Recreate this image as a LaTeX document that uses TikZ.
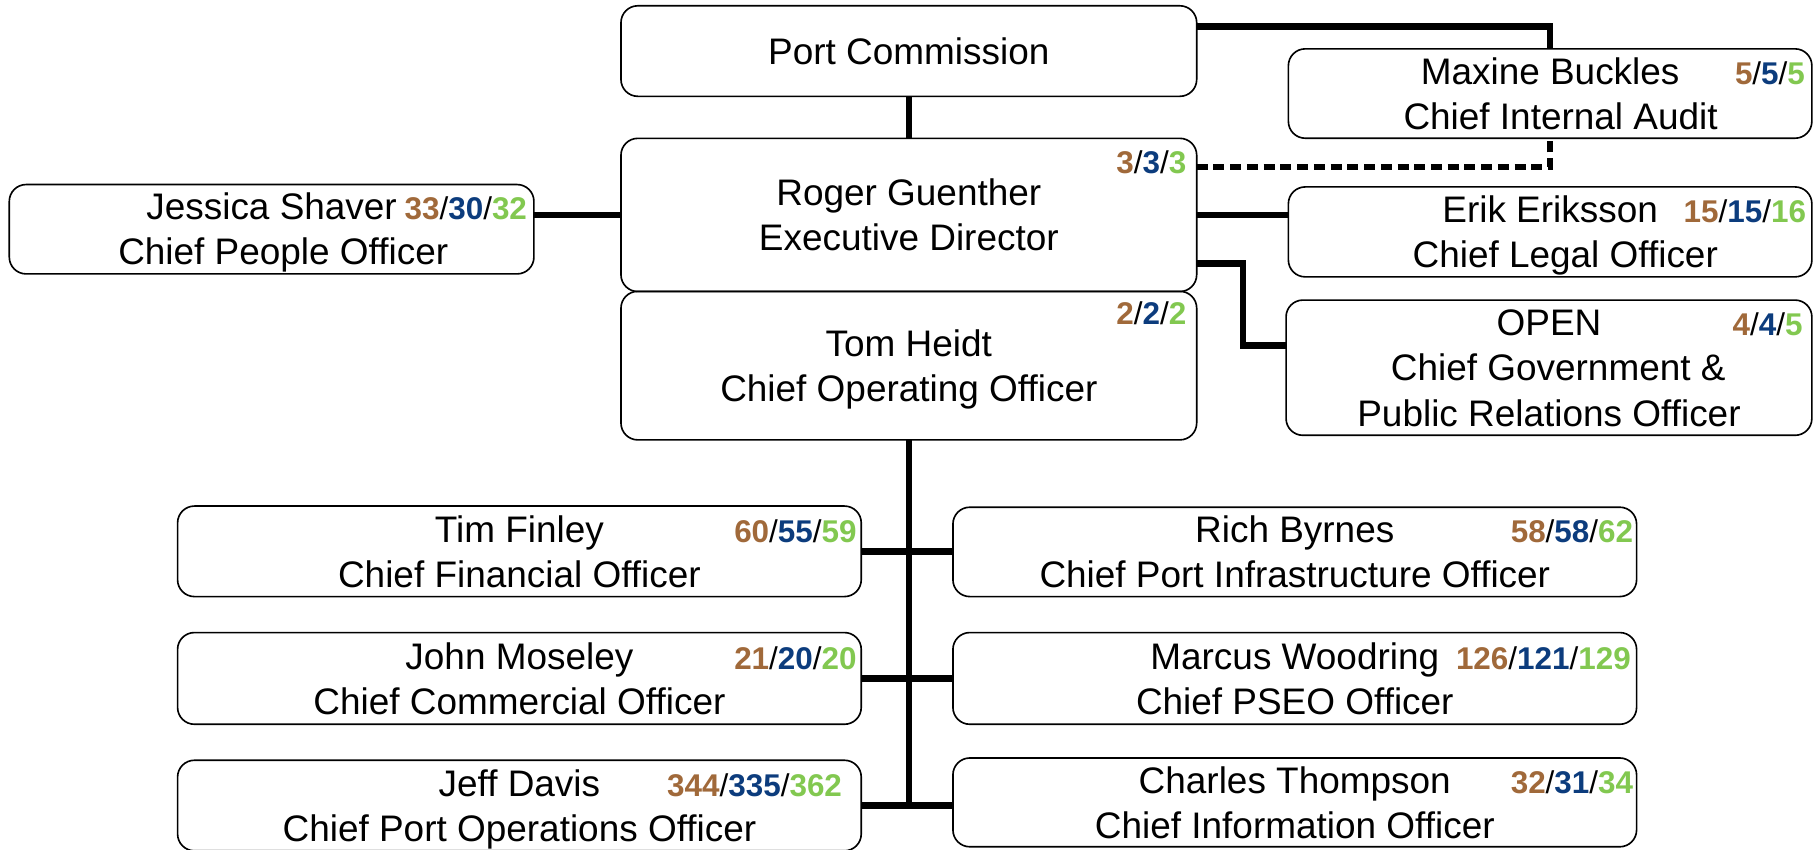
\documentclass[tikz,border=0pt]{standalone}
\usepackage{fontspec}
\setmainfont{Liberation Sans}
\usepackage{tikz}
\usepackage{xcolor}
\definecolor{hcbrown}{RGB}{160,105,58}
\definecolor{hcblue}{RGB}{12,60,125}
\definecolor{hcgreen}{RGB}{130,200,80}
\newcommand{\hcount}[3]{\textbf{\textcolor{hcbrown}{#1}}/\textbf{\textcolor{hcblue}{#2}}/\textbf{\textcolor{hcgreen}{#3}}}

\begin{document}
\begin{tikzpicture}[
  x=0.01cm, y=-0.01cm,
  orgbox/.style={rectangle, draw=black, line width=0.4pt, rounded corners=0.145cm, inner sep=0pt, outer sep=0pt, align=center, text height=0.616cm, text depth=0pt, font=\fontsize{9.05pt}{11.04pt}\selectfont},
  boxsize/.style 2 args={minimum width=#1*0.01cm, minimum height=#2*0.01cm},
  cnt/.style={inner sep=0pt, outer sep=0pt, anchor=base east, font=\fontsize{7.7pt}{9pt}\selectfont},
  conn/.style={line width=1.6pt},
  dotconn/.style={line width=1.3pt, dash pattern=on 2.7pt off 1.4pt}
]
\useasboundingbox (0,0) rectangle (1568,731.5);
\clip (0,0) rectangle (1568,731.5);

% top of the chart
\node[orgbox, boxsize={496}{78}, text height=0.228cm] (pc) at (783,44) {Port Commission};
\node[orgbox, boxsize={451}{77}] (maxine) at (1335.5,80.6) {Maxine Buckles\\\hspace*{0.18cm}Chief Internal Audit};
\node[orgbox, boxsize={496}{132}] (ed) at (783,185.2) {Roger Guenther\\Executive Director};
\node[orgbox, boxsize={496}{128}] (coo) at (783,315) {Tom Heidt\\Chief Operating Officer};
\node[orgbox, boxsize={452}{77}] (jessica) at (234,197.5) {Jessica Shaver\\\hspace*{0.2cm}Chief People Officer};
\node[orgbox, boxsize={451}{77.5}] (erik) at (1335.5,199.8) {Erik Eriksson\\\hspace*{0.26cm}Chief Legal Officer};
\node[orgbox, boxsize={453}{116.5}, text height=1.004cm] (open) at (1334.5,316.8) {OPEN\\\hspace*{0.16cm}Chief Government \&\\Public Relations Officer};

% reports of the COO
\node[orgbox, boxsize={589}{78}] (tim) at (447.5,475) {Tim Finley\\Chief Financial Officer};
\node[orgbox, boxsize={589}{77}] (rich) at (1115.5,475.5) {Rich Byrnes\\Chief Port Infrastructure Officer};
\node[orgbox, boxsize={589}{79}] (john) at (447.5,584.5) {John Moseley\\Chief Commercial Officer};
\node[orgbox, boxsize={589}{79}] (marcus) at (1115.5,584.5) {Marcus Woodring\\Chief PSEO Officer};
\node[orgbox, boxsize={589}{78}] (jeff) at (447.5,694) {Jeff Davis\\Chief Port Operations Officer};
\node[orgbox, boxsize={589}{76.5}] (charles) at (1115.5,691.3) {Charles Thompson\\Chief Information Officer};

% head counts
\node[cnt] (maxinen) at ([shift={(-6,-8)}]maxine.east) {\hcount{5}{5}{5}};
\node[cnt] (edn) at ([shift={(-9,30)}]ed.north east) {\hcount{3}{3}{3}};
\node[cnt] (coon) at ([shift={(-9,28.7)}]coo.north east) {\hcount{2}{2}{2}};
\node[cnt] (jessican) at ([shift={(-6,-8)}]jessica.east) {\hcount{33}{30}{32}};
\node[cnt] (erikn) at ([shift={(-5,-8)}]erik.east) {\hcount{15}{15}{16}};
\node[cnt] (openn) at ([shift={(-8,-27.4)}]open.east) {\hcount{4}{4}{5}};
\node[cnt] (timn) at ([shift={(-4,-8)}]tim.east) {\hcount{60}{55}{59}};
\node[cnt] (richn) at ([shift={(-3,-8)}]rich.east) {\hcount{58}{58}{62}};
\node[cnt] (johnn) at ([shift={(-4,-8)}]john.east) {\hcount{21}{20}{20}};
\node[cnt] (marcusn) at ([shift={(-5,-8)}]marcus.east) {\hcount{126}{121}{129}};
\node[cnt] (jeffn) at ([shift={(-16.6,-8)}]jeff.east) {\hcount{344}{335}{362}};
\node[cnt] (charlesn) at ([shift={(-3,-8)}]charles.east) {\hcount{32}{31}{34}};

% connectors
\coordinate (pctap) at (1031,23);
\coordinate (audtap) at (1031,144);
\coordinate (gprtap) at (1031,227);
\coordinate (opentap) at (1108,297.8);
\draw[conn] (pc.south) -- (ed.north);
\draw[conn] (pctap) -| (maxine.north);
\draw[dotconn] (audtap) -| (maxine.south);
\draw[conn] (ed.east) -- (ed.east -| erik.west);
\draw[conn] (gprtap) -- ++(40,0) |- (opentap);
\draw[conn] (ed.west) -- (ed.west -| jessica.east);
\draw[conn] (coo.south) -- (coo.south |- jeff.east);
\draw[conn] (tim.east) -- (tim.east -| rich.west);
\draw[conn] (john.east) -- (john.east -| marcus.west);
\draw[conn] (jeff.east) -- (jeff.east -| charles.west);
\end{tikzpicture}
\end{document}
